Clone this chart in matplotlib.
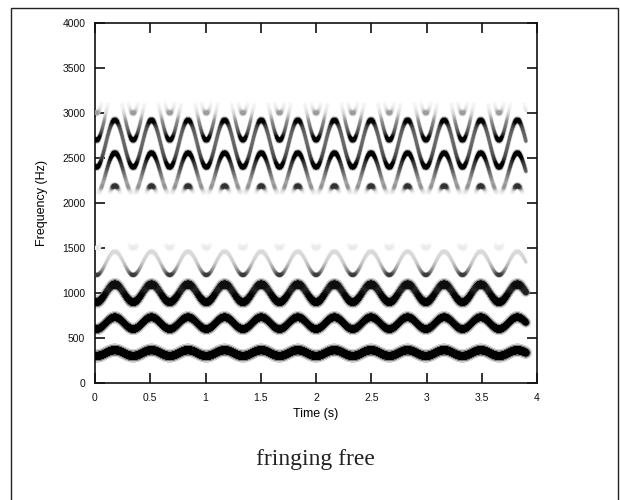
import numpy as np
import matplotlib
matplotlib.use("Agg")
import matplotlib.pyplot as plt
from matplotlib.collections import LineCollection
from matplotlib.patches import Rectangle

# ---------------- data ----------------
harmonic_numbers = [1, 2, 3, 4, 5, 6, 7, 8, 9, 10]
f0_min_hz = 300.0          # lowest pitch (F1 trough)
f0_max_hz = 365.0          # highest pitch (F1 crest)
vibrato_rate_hz = 3.02     # ~12 cycles in 3.9 s
first_crest_s = 0.18       # time of first crest
track_start_s = 0.0
track_end_s = 3.9

# spectral envelope (darkness of a harmonic as a function of its frequency)
envelope_hz = [0, 250, 420, 520, 560, 800, 850, 1150, 1200, 1330, 1460, 1520,
               1600, 2000, 2110, 2150, 2180, 2230, 2300, 2400, 2600, 2750, 2900, 2980, 3050, 3150, 4000]
envelope_level = [1.0, 1.0, 1.0, 1.0, 1.0, 1.0, 1.0, 0.5, 0.48, 0.2, 0.09, 0.03,
                  0.0, 0.0, 0.0, 0.15, 0.52, 0.45, 0.7, 1.0, 1.0, 0.95, 0.8, 0.3, 0.1, 0.0, 0.0]

x_ticks = [0, 0.5, 1, 1.5, 2, 2.5, 3, 3.5, 4]
x_tick_labels = ["0", "0.5", "1", "1.5", "2", "2.5", "3", "3.5", "4"]
y_ticks = [0, 500, 1000, 1500, 2000, 2500, 3000, 3500, 4000]
y_tick_labels = ["0", "500", "1000", "1500", "2000", "2500", "3000", "3500", "4000"]

# ---------------- styles ----------------
harmonic_width_pt = {1: 5.6, 2: 5.2, 3: 5.4, 4: 2.4, 5: 2.8, 6: 3.2, 7: 3.4, 8: 3.4, 9: 3.2, 10: 3.0}
gain = 1.6
slope_ref = 2000.0
halo_layers = [(1.65, 0.18), (1.3, 0.5)]   # (width factor, darkness factor)

fig = plt.figure(figsize=(6.2, 5.0), dpi=100)
ax = fig.add_axes([95 / 620, 117 / 500, 442 / 620, 360 / 500])
ax.set_xlim(0, 4)
ax.set_ylim(0, 4000)

# outer frame
fig.patches.append(Rectangle((11 / 620, -0.05), 607 / 620, 1.034, transform=fig.transFigure,
                             fill=False, edgecolor="#222222", linewidth=1.0))

f0_mean = 0.5 * (f0_min_hz + f0_max_hz)
f0_depth = 0.5 * (f0_max_hz - f0_min_hz)
t = np.linspace(track_start_s, track_end_s, 2400)
phase = 2 * np.pi * vibrato_rate_hz * (t - first_crest_s)
f0 = f0_mean + f0_depth * np.cos(phase)
df0 = -f0_depth * 2 * np.pi * vibrato_rate_hz * np.sin(phase)

px_per_s = 442 / 4.0
px_per_hz = 360 / 4000.0

all_segs, all_dark, all_w = [], [], []
for n in harmonic_numbers:
    f = n * f0
    slope = n * df0
    env = np.interp(f, envelope_hz, envelope_level)
    att = 1.0 / np.sqrt(1.0 + (slope / slope_ref) ** 2)
    dark = np.clip(gain * env * att, 0, 1)
    ds = slope * px_per_hz / px_per_s
    cos_t = 1.0 / np.sqrt(1.0 + ds ** 2)
    pts = np.column_stack([t, f])
    segs = np.stack([pts[:-1], pts[1:]], axis=1)
    d = 0.5 * (dark[:-1] + dark[1:])
    c = 0.5 * (cos_t[:-1] + cos_t[1:])
    w = harmonic_width_pt[n] * (0.45 + 0.55 * c)
    keep = d > 0.03
    all_segs.extend(list(segs[keep]))
    all_dark.extend(list(d[keep]))
    all_w.extend(list(w[keep]))

all_dark = np.array(all_dark)
all_w = np.array(all_w)
order = np.argsort(all_dark)
segs_sorted = [all_segs[i] for i in order]
dark_sorted = all_dark[order]
w_sorted = all_w[order]


def add_layer(width_factor, dark_factor, z):
    v = dark_sorted * dark_factor
    rgba = [(1 - x, 1 - x, 1 - x, 1.0) for x in v]
    lc = LineCollection(segs_sorted, colors=rgba, linewidths=w_sorted * width_factor,
                        capstyle="round", zorder=z)
    ax.add_collection(lc)


for i, (wf, df) in enumerate(halo_layers):
    add_layer(wf, df, 1 + i)
add_layer(1.0, 1.0, 5)

# axes styling
for sp in ax.spines.values():
    sp.set_linewidth(1.2)
    sp.set_color("#111111")
ax.set_xticks(x_ticks)
ax.set_xticklabels(x_tick_labels)
ax.set_yticks(y_ticks)
ax.set_yticklabels(y_tick_labels)
ax.tick_params(direction="in", length=7, width=1.2, top=True, right=True,
               labelsize=7.5, pad=7, colors="#111111")
for lab in ax.get_xticklabels() + ax.get_yticklabels():
    lab.set_family("Liberation Sans")
ax.set_xlabel("Time (s)", fontsize=9, family="Liberation Sans", labelpad=4)
ax.set_ylabel("Frequency (Hz)", fontsize=9, family="Liberation Sans", labelpad=10)

fig.text(315 / 620, 1 - 460 / 500, "fringing free", ha="center", va="center",
         fontsize=17, family="Liberation Serif", color="#222222")

fig.savefig("out.png", dpi=100)
